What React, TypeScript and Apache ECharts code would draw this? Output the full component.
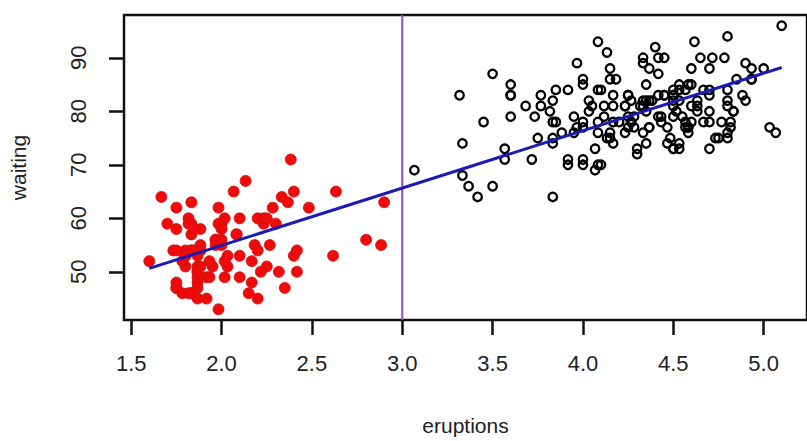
import React, { useEffect, useRef } from "react";
import * as echarts from "echarts";

const eruptions = [
  3.6, 1.8, 3.333, 2.283, 4.533, 2.883, 4.7, 3.6, 1.95, 4.35, 1.833, 3.917, 4.2, 1.75, 4.7, 2.167, 1.75, 4.8, 1.6, 4.25,
  1.8, 1.75, 3.45, 3.067, 4.533, 3.6, 1.967, 4.083, 3.85, 4.433, 4.3, 4.467, 3.367, 4.033, 3.833, 2.017, 1.867, 4.833, 1.833, 4.783,
  4.35, 1.883, 4.567, 1.75, 4.533, 3.317, 3.833, 2.1, 4.633, 2.0, 4.8, 4.716, 1.833, 4.833, 1.733, 4.883, 3.717, 1.667, 4.567, 4.317,
  2.233, 4.5, 1.75, 4.8, 1.817, 4.4, 4.167, 4.7, 2.067, 4.7, 4.033, 1.967, 4.5, 4.0, 1.983, 5.067, 2.017, 4.567, 3.883, 3.6,
  4.133, 4.333, 4.1, 2.633, 4.067, 4.933, 3.95, 4.517, 2.167, 4.0, 2.2, 4.333, 1.867, 4.817, 1.833, 4.3, 4.667, 3.75, 1.867, 4.9,
  2.483, 4.367, 2.1, 4.5, 4.05, 1.867, 4.7, 1.783, 4.85, 3.683, 4.733, 2.3, 4.9, 4.417, 1.7, 4.633, 2.317, 4.6, 1.817, 4.417,
  2.617, 4.067, 4.25, 1.967, 4.6, 3.767, 1.917, 4.5, 2.267, 4.65, 1.867, 4.167, 2.8, 4.333, 1.833, 4.383, 1.883, 4.933, 2.033, 3.733,
  4.233, 2.233, 4.533, 4.817, 4.333, 1.983, 4.633, 2.017, 5.1, 1.8, 5.033, 4.0, 2.4, 4.6, 3.567, 4.0, 4.5, 4.083, 1.8, 3.967,
  2.2, 4.15, 2.0, 3.833, 3.5, 4.583, 2.367, 5.0, 1.933, 4.617, 1.917, 2.083, 4.583, 3.333, 4.167, 4.333, 4.5, 2.417, 4.0, 4.167,
  1.883, 4.583, 4.25, 3.767, 2.033, 4.433, 4.083, 1.833, 4.417, 2.183, 4.8, 1.833, 4.8, 4.1, 3.966, 4.233, 3.5, 4.366, 2.25, 4.667,
  2.1, 4.35, 4.133, 1.867, 4.6, 1.783, 4.367, 3.85, 1.933, 4.5, 2.383, 4.7, 1.867, 3.833, 3.417, 4.233, 2.4, 4.8, 2.0, 4.15,
  1.867, 4.267, 1.75, 4.483, 4.0, 4.117, 4.083, 4.267, 3.917, 4.55, 4.083, 2.417, 4.183, 2.217, 4.45, 1.883, 1.85, 4.283, 3.95, 2.333,
  4.15, 2.35, 4.933, 2.9, 4.583, 3.833, 2.083, 4.367, 2.133, 4.35, 2.2, 4.45, 3.567, 4.5, 4.15, 3.817, 3.917, 4.45, 2.0, 4.283,
  4.767, 4.533, 1.85, 4.25, 1.983, 2.25, 4.75, 4.117, 2.15, 4.417, 1.817, 4.467,
];

const waiting = [
  79, 54, 74, 62, 85, 55, 88, 85, 51, 85, 54, 84, 78, 47, 83, 52, 62, 84, 52, 79,
  51, 47, 78, 69, 74, 83, 55, 76, 78, 79, 73, 77, 66, 80, 74, 52, 48, 80, 59, 90,
  80, 58, 84, 58, 73, 83, 64, 53, 82, 59, 75, 90, 54, 80, 54, 83, 71, 64, 77, 81,
  59, 84, 48, 82, 60, 92, 78, 78, 65, 73, 82, 56, 79, 71, 62, 76, 60, 78, 76, 83,
  75, 82, 70, 65, 73, 88, 76, 80, 48, 86, 60, 90, 50, 78, 63, 72, 84, 75, 51, 82,
  62, 88, 49, 83, 81, 47, 84, 52, 86, 81, 75, 59, 89, 79, 59, 81, 50, 85, 59, 87,
  53, 69, 77, 56, 88, 81, 45, 82, 55, 90, 45, 83, 56, 89, 46, 82, 51, 86, 53, 79,
  81, 60, 82, 77, 76, 59, 80, 49, 96, 53, 77, 77, 65, 81, 71, 70, 81, 93, 53, 89,
  45, 86, 58, 78, 66, 76, 63, 88, 52, 93, 49, 57, 77, 68, 81, 81, 73, 50, 85, 74,
  55, 77, 83, 83, 51, 78, 84, 46, 83, 55, 81, 57, 76, 84, 77, 81, 87, 77, 51, 78,
  60, 82, 91, 53, 78, 46, 77, 84, 49, 83, 71, 80, 49, 75, 64, 76, 53, 94, 55, 76,
  50, 82, 54, 75, 78, 79, 78, 78, 70, 79, 70, 54, 86, 50, 90, 54, 54, 77, 79, 64,
  75, 47, 86, 63, 85, 82, 57, 82, 67, 74, 54, 83, 73, 73, 88, 80, 71, 83, 56, 79,
  78, 84, 58, 83, 43, 60, 75, 81, 46, 90, 46, 74,
];

const splitAt = [3];
const fitX = [1.6, 5.1];
const fitY = [50.64, 88.19];
const xTicks = [1.5, 2.0, 2.5, 3.0, 3.5, 4.0, 4.5, 5.0];
const xTickLabels = ["1.5", "2.0", "2.5", "3.0", "3.5", "4.0", "4.5", "5.0"];
const yTicks = [50, 60, 70, 80, 90];
const yTickLabels = ["50", "60", "70", "80", "90"];
const xRange = [1.46, 5.24];
const yRange = [41, 98];

const FONT = "'Liberation Sans', Arial, Helvetica, sans-serif";

export default function App() {
  const ref = useRef<HTMLDivElement>(null);
  useEffect(() => {
    if (!ref.current) return;
    const chart = echarts.init(ref.current, undefined, { renderer: "svg" });
    const red: number[][] = [];
    const black: number[][] = [];
    eruptions.forEach((e, i) => {
      if (e < splitAt[0]) red.push([e, waiting[i]]);
      else black.push([e, waiting[i]]);
    });
    chart.setOption({
      animation: false,
      backgroundColor: "#ffffff",
      grid: {
        left: 123,
        top: 15,
        width: 690,
        height: 311.5,
        show: true,
        borderColor: "#111",
        borderWidth: 2.5,
        backgroundColor: "transparent",
      },
      xAxis: {
        type: "value",
        min: xRange[0],
        max: xRange[1],
        name: "eruptions",
        nameLocation: "middle",
        nameGap: 95,
        nameTextStyle: { fontFamily: FONT, fontSize: 21, color: "#222" },
        axisLine: { show: false },
        splitLine: { show: false },
        axisTick: {
          show: true,
          length: 15,
          customValues: xTicks,
          lineStyle: { color: "#111", width: 2.5 },
        },
        axisLabel: {
          customValues: xTicks,
          margin: 32,
          fontFamily: FONT,
          fontSize: 22,
          color: "#222",
          formatter: (v: number) => xTickLabels[xTicks.findIndex((t) => Math.abs(t - v) < 1e-6)] ?? "",
        },
      },
      yAxis: {
        type: "value",
        min: yRange[0],
        max: yRange[1],
        name: "waiting",
        nameLocation: "middle",
        nameGap: 95,
        nameRotate: 90,
        nameTextStyle: { fontFamily: FONT, fontSize: 21, color: "#222" },
        axisLine: { show: false },
        splitLine: { show: false },
        axisTick: {
          show: true,
          length: 15,
          customValues: yTicks,
          lineStyle: { color: "#111", width: 2.5 },
        },
        axisLabel: {
          customValues: yTicks,
          rotate: 90,
          margin: 35,
          fontFamily: FONT,
          fontSize: 22,
          color: "#222",
          formatter: (v: number) => yTickLabels[yTicks.indexOf(Math.round(v))] ?? "",
        },
      },
      series: [
        {
          type: "scatter",
          data: red,
          symbol: "circle",
          symbolSize: 11,
          itemStyle: { color: "#f00a0a", borderColor: "#cc1010", borderWidth: 0.8, opacity: 1 },
          z: 2,
        },
        {
          type: "scatter",
          data: black,
          symbol: "circle",
          symbolSize: 8.5,
          itemStyle: { color: "rgba(0,0,0,0)", borderColor: "#000", borderWidth: 2.3, opacity: 1 },
          z: 2,
        },
        {
          type: "line",
          data: [
            [splitAt[0], yRange[0]],
            [splitAt[0], yRange[1]],
          ],
          symbol: "none",
          lineStyle: { color: "#9b45c8", width: 2 },
          z: 3,
        },
        {
          type: "line",
          data: fitX.map((x, i) => [x, fitY[i]]),
          symbol: "none",
          lineStyle: { color: "#1a1ab4", width: 3 },
          z: 4,
        },
      ],
    });
    return () => chart.dispose();
  }, []);
  return (
    <div
      ref={ref}
      style={{ position: "fixed", left: 0, top: 0, width: 807, height: 441, background: "#fff" }}
    />
  );
}
